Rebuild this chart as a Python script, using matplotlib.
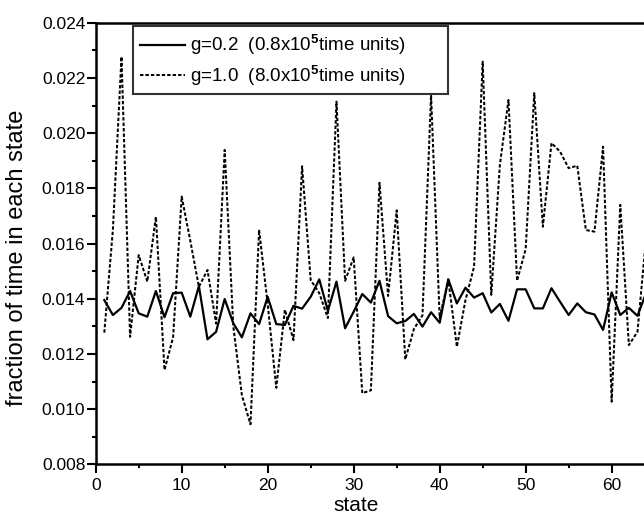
import matplotlib.pyplot as plt
import numpy as np

plt.rcParams['font.family'] = ['Liberation Sans', 'DejaVu Sans']
plt.rcParams['mathtext.fontset'] = 'custom'
plt.rcParams['mathtext.rm'] = 'Liberation Sans'
plt.rcParams['mathtext.bf'] = 'Liberation Sans:bold'

states = np.arange(1, 65)

# g=0.2 run (0.8x10^5 time units)
frac_g02 = [0.01395, 0.01341, 0.01367, 0.01428, 0.01347, 0.01335, 0.01428, 0.01333,
            0.01420, 0.01422, 0.01335, 0.01446, 0.01253, 0.01280, 0.01399, 0.01311,
            0.01260, 0.01347, 0.01308, 0.01407, 0.01308, 0.01305, 0.01374, 0.01364,
            0.01407, 0.01470, 0.01356, 0.01462, 0.01293, 0.01353, 0.01417, 0.01386,
            0.01465, 0.01337, 0.01311, 0.01319, 0.01345, 0.01299, 0.01351, 0.01313,
            0.01470, 0.01383, 0.01440, 0.01404, 0.01420, 0.01350, 0.01381, 0.01320,
            0.01434, 0.01434, 0.01365, 0.01365, 0.01438, 0.01389, 0.01341, 0.01383,
            0.01351, 0.01343, 0.01287, 0.01423, 0.01341, 0.01367, 0.01338, 0.01420]

# g=1.0 run (8.0x10^5 time units)
frac_g10 = [0.01277, 0.01650, 0.02277, 0.01262, 0.01558, 0.01462, 0.01697, 0.01142,
            0.01260, 0.01770, 0.01610, 0.01443, 0.01504, 0.01310, 0.01939, 0.01300,
            0.01050, 0.00945, 0.01650, 0.01380, 0.01077, 0.01360, 0.01250, 0.01880,
            0.01468, 0.01420, 0.01330, 0.02114, 0.01465, 0.01550, 0.01058, 0.01068,
            0.01820, 0.01410, 0.01720, 0.01180, 0.01290, 0.01340, 0.02138, 0.01330,
            0.01470, 0.01226, 0.01395, 0.01516, 0.02259, 0.01414, 0.01885, 0.02120,
            0.01465, 0.01580, 0.02145, 0.01661, 0.01964, 0.01933, 0.01873, 0.01882,
            0.01649, 0.01643, 0.01951, 0.01027, 0.01740, 0.01232, 0.01280, 0.01620]

fig = plt.figure(figsize=(6.44, 5.15), dpi=100)
ax = fig.add_axes([0.1486, 0.0984, 0.8514, 0.8575])

ax.plot(states, frac_g02, color='black', lw=1.6,
        label=r'g=0.2  (0.8x10$^{\mathbf{5}}$time units)')
ax.plot(states, frac_g10, color='black', lw=1.45, linestyle=(0, (1.7, 1.0)),
        label=r'g=1.0  (8.0x10$^{\mathbf{5}}$time units)')

ax.set_xlim(0, 63.76)
ax.set_ylim(0.008, 0.024)
ax.set_xticks(np.arange(0, 61, 10))
ax.set_xticks(np.arange(5, 64, 10), minor=True)
ax.set_yticks(np.arange(0.008, 0.0241, 0.002))
ax.set_yticks(np.arange(0.009, 0.024, 0.002), minor=True)
ax.yaxis.set_major_formatter(plt.FormatStrFormatter('%.3f'))

ax.tick_params(which='major', direction='out', length=6.5, width=1.5, labelsize=12.5)
ax.tick_params(axis='y', which='major', pad=1)
ax.tick_params(axis='x', which='major', pad=3)
ax.tick_params(which='minor', direction='out', length=3, width=1.5)
ax.spines['right'].set_visible(False)
for s in ['left', 'bottom', 'top']:
    ax.spines[s].set_linewidth(1.8)

ax.set_xlabel('state', fontsize=15)
ax.set_ylabel('fraction of time in each state', fontsize=17)
ax.xaxis.set_label_coords(0.475, -0.071)
ax.yaxis.set_label_coords(-0.123, 0.467)

leg = ax.legend(loc='upper left', bbox_to_anchor=(0.068, 0.8925, 0.5745, 0.1),
                mode='expand', fontsize=13.5,
                frameon=True, fancybox=False, edgecolor='black', borderaxespad=0,
                handlelength=2.4, handletextpad=0.3, borderpad=0.35, labelspacing=0.3)
leg.get_frame().set_linewidth(1.5)

fig.savefig('out.png', dpi=100)
